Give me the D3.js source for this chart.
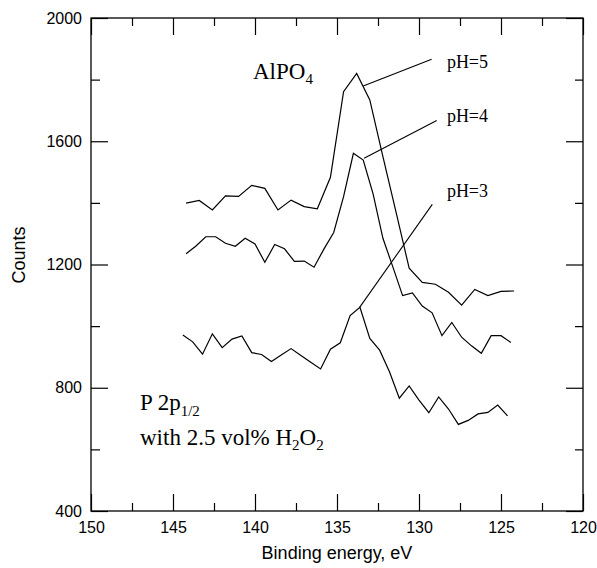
<!DOCTYPE html>
<html><head><meta charset="utf-8">
<script src="https://cdn.jsdelivr.net/npm/d3@7"></script>
<style>body{margin:0;background:#fff}svg{display:block}</style>
</head><body>
<script>
// ---- data ----
const ph5Energy = d3.range(26).map(i => +(144.2 - 0.8 * i).toFixed(1));
const ph5Counts = [1399,1408,1377,1423,1421,1457,1447,1377,1409,1388,1381,1483,1761,1820,1734,1550,1370,1188,1142,1136,1110,1068,1119,1099,1113,1114];
const ph4Energy = d3.range(34).map(i => +(144.2 - 0.6 * i).toFixed(1));
const ph4Counts = [1235,1260,1290,1290,1269,1259,1285,1267,1207,1265,1251,1210,1211,1191,1250,1304,1420,1561,1539,1429,1285,1193,1099,1108,1065,1043,969,1012,964,936,912,969,969,947];
const ph3Energy = d3.range(34).map(i => +(144.4 - 0.6 * i).toFixed(1));
const ph3Counts = [971,949,909,975,930,958,968,914,908,885,906,927,905,883,861,925,946,1034,1061,960,922,852,766,806,760,719,770,731,681,694,715,720,744,709];
const seriesLabels = ["pH=5","pH=4","pH=3"];
// leader lines: [x1,y1,x2,y2] in data units, label anchor [x,y]
const leaderLines = [[133.4,1779,129.23,1866],[133.35,1545,128.92,1667],[133.62,1061,129.19,1395]];
const labelAnchors = [[128.3,1838],[128.3,1662],[128.3,1419]];
const xTicks = [150,145,140,135,130,125,120];
const xMinor = [147.5,142.5,137.5,132.5,127.5,122.5];
const yTicks = [400,800,1200,1600,2000];
const yMinor = [600,1000,1400,1800];

// ---- layout ----
const W = 597, H = 568;
const L = 91, R = 583, T = 18, B = 511;
const svg = d3.select("body").append("svg").attr("width", W).attr("height", H);
const x = d3.scaleLinear().domain([150,120]).range([L,R]);
const y = d3.scaleLinear().domain([400,2000]).range([B,T]);

const sans = "'Liberation Sans', Arial, sans-serif";
const serif = "'Liberation Serif', 'Times New Roman', serif";

function styleAxis(g){
  g.select(".domain").remove();
  g.selectAll("line").attr("stroke","#000").attr("stroke-width",1.2);
  g.selectAll("text").attr("font-family",sans).attr("font-size",16).attr("fill","#000");
}
// bottom
svg.append("g").attr("transform",`translate(0,${B})`)
  .call(d3.axisBottom(x).tickValues(xTicks).tickSize(-17).tickPadding(11).tickFormat(d3.format("d"))).call(styleAxis);
svg.append("g").attr("transform",`translate(0,${B})`)
  .call(d3.axisBottom(x).tickValues(xMinor).tickSize(-8).tickFormat("")).call(styleAxis);
// top
svg.append("g").attr("transform",`translate(0,${T})`)
  .call(d3.axisTop(x).tickValues(xTicks).tickSize(-17).tickFormat("")).call(styleAxis);
svg.append("g").attr("transform",`translate(0,${T})`)
  .call(d3.axisTop(x).tickValues(xMinor).tickSize(-8).tickFormat("")).call(styleAxis);
// left
svg.append("g").attr("transform",`translate(${L},0)`)
  .call(d3.axisLeft(y).tickValues(yTicks).tickSize(-17).tickPadding(9).tickFormat(d3.format("d"))).call(styleAxis);
svg.append("g").attr("transform",`translate(${L},0)`)
  .call(d3.axisLeft(y).tickValues(yMinor).tickSize(-9).tickFormat("")).call(styleAxis);
// right
svg.append("g").attr("transform",`translate(${R},0)`)
  .call(d3.axisRight(y).tickValues(yTicks).tickSize(-17).tickFormat("")).call(styleAxis);
svg.append("g").attr("transform",`translate(${R},0)`)
  .call(d3.axisRight(y).tickValues(yMinor).tickSize(-8).tickFormat("")).call(styleAxis);
// frame
svg.append("rect").attr("x",L).attr("y",T).attr("width",R-L).attr("height",B-T)
  .attr("fill","none").attr("stroke","#000").attr("stroke-width",1.3);

// axis titles
svg.append("text").attr("x",(L+R)/2).attr("y",559).attr("text-anchor","middle")
  .attr("font-family",sans).attr("font-size",18).text("Binding energy, eV");
svg.append("text").attr("transform","translate(25,255) rotate(-90)").attr("text-anchor","middle")
  .attr("font-family",sans).attr("font-size",18).text("Counts");

// series
const line = d3.line().x(d => x(d[0])).y(d => y(d[1]));
const series = [
  d3.zip(ph5Energy, ph5Counts),
  d3.zip(ph4Energy, ph4Counts),
  d3.zip(ph3Energy, ph3Counts)
];
svg.append("g").selectAll("path").data(series).join("path")
  .attr("d", line).attr("fill","none").attr("stroke","#000").attr("stroke-width",1.2)
  .attr("stroke-linejoin","miter");

// leader lines & labels
svg.append("g").selectAll("line").data(leaderLines).join("line")
  .attr("x1",d=>x(d[0])).attr("y1",d=>y(d[1])).attr("x2",d=>x(d[2])).attr("y2",d=>y(d[3]))
  .attr("stroke","#000").attr("stroke-width",1.1);
svg.append("g").selectAll("text").data(labelAnchors).join("text")
  .attr("x",d=>x(d[0])).attr("y",d=>y(d[1]))
  .attr("font-family",serif).attr("font-size",18).text((d,i)=>seriesLabels[i]);

// annotations
const t1 = svg.append("text").attr("x",253).attr("y",79).attr("font-family",serif).attr("font-size",23);
t1.append("tspan").text("AlPO");
t1.append("tspan").attr("dy",5).attr("font-size",15).text("4");

const t2 = svg.append("text").attr("x",140).attr("y",410).attr("font-family",serif).attr("font-size",23);
t2.append("tspan").text("P 2p");
t2.append("tspan").attr("dy",6).attr("font-size",15).text("1/2");

const t3 = svg.append("text").attr("x",140).attr("y",445).attr("font-family",serif).attr("font-size",23);
t3.append("tspan").text("with 2.5 vol% H");
t3.append("tspan").attr("dy",5).attr("font-size",15).text("2");
t3.append("tspan").attr("dy",-5).text("O");
t3.append("tspan").attr("dy",5).attr("font-size",15).text("2");
</script>
</body></html>
